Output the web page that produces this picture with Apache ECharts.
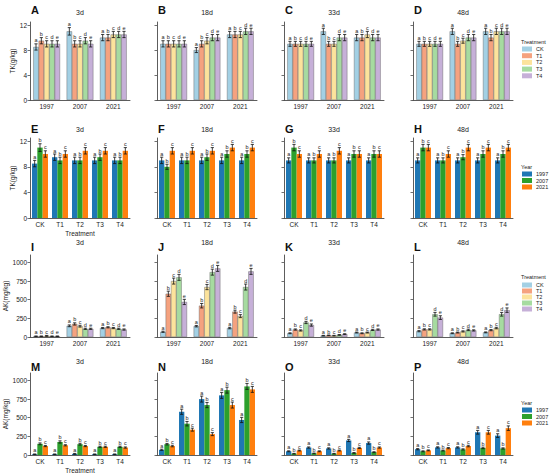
<!DOCTYPE html>
<html><head><meta charset="utf-8">
<script src="https://cdn.jsdelivr.net/npm/echarts@6/dist/echarts.min.js"></script>
<style>html,body{margin:0;padding:0;background:#fff}#c{width:550px;height:475px}</style>
</head><body><div id="c"></div><script>
// ---------- data ----------
var days = ['3d', '18d', '33d', '48d'];
var years = ['1997', '2007', '2021'];
var treatments = ['CK', 'T1', 'T2', 'T3', 'T4'];
var panelLetters = ['A','B','C','D','E','F','G','H','I','J','K','L','M','N','O','P'];
var letters5 = ['a', 'b', 'c', 'd', 'e'];
var letters3 = ['a', 'b', 'c'];
var tkTicks = [0, 4, 8, 12];
var akTicks = [0, 250, 500, 750, 1000];

// TK (g/kg): rows = treatment (CK..T4), columns = year (1997, 2007, 2021)
var tk3d  = [[8.5, 11, 10], [9.5, 9, 10], [9, 9, 10.5], [9, 9.5, 10.5], [9, 9, 10.5]];
var tk18d = [[9, 8, 10.5], [9, 9, 10.5], [9, 9.5, 10.5], [9, 10, 11], [9, 10, 11]];
var tk33d = [[9, 11, 10], [9, 9, 10], [9, 9, 10.5], [9, 10, 10], [9, 10, 10]];
var tk48d = [[9, 11, 11], [9, 9, 10], [9, 9.5, 11], [9, 10, 11], [9, 10, 11]];
var tkErr3d  = [[0.5, 0.6, 0.5], [0.5, 0.5, 0.5], [0.5, 0.5, 0.5], [0.5, 0.5, 0.5], [0.5, 0.5, 0.5]];
var tkErr18d = [[0.5, 0.4, 0.5], [0.5, 0.5, 0.5], [0.5, 0.5, 0.5], [0.5, 0.5, 0.5], [0.5, 0.5, 0.5]];
var tkErr33d = [[0.4, 0.5, 0.5], [0.4, 0.4, 0.5], [0.4, 0.4, 0.5], [0.4, 0.5, 0.5], [0.4, 0.5, 0.5]];
var tkErr48d = [[0.4, 0.5, 0.5], [0.4, 0.4, 0.5], [0.4, 0.4, 0.5], [0.4, 0.5, 0.5], [0.4, 0.5, 0.5]];

// AK (mg/kg): rows = treatment, columns = year
var ak3d  = [[10, 150, 120], [10, 175, 130], [15, 145, 120], [10, 110, 110], [10, 110, 100]];
var ak18d = [[70, 145, 120], [580, 420, 340], [750, 670, 280], [800, 870, 670], [470, 920, 880]];
var ak33d = [[50, 18, 60], [100, 22, 50], [88, 18, 60], [195, 28, 95], [160, 38, 100]];
var ak48d = [[78, 50, 62], [102, 60, 92], [102, 75, 120], [305, 95, 305], [260, 88, 360]];
var akErr3d  = [[4, 12, 8], [4, 15, 8], [6, 12, 8], [4, 8, 8], [4, 8, 8]];
var akErr18d = [[8, 10, 10], [35, 30, 20], [40, 35, 20], [40, 40, 40], [35, 40, 40]];
var akErr33d = [[6, 4, 6], [8, 4, 6], [8, 4, 6], [15, 5, 8], [15, 6, 8]];
var akErr48d = [[8, 6, 6], [8, 6, 8], [8, 8, 10], [25, 10, 25], [25, 8, 30]];

// ---------- style ----------
var treatColors = ['#a3d0e4', '#f5a27f', '#fce39c', '#a6dba0', '#c6b0d8'];
var yearColors = ['#1f77b4', '#2ca02c', '#ff7f0e'];
var colLeft = [30, 157, 284, 413];
var colWidth = 100;
var rowTop = [22, 138, 255, 373];
var rowHeight = [78, 80, 82, 82];
var letterTop = [4.5, 123, 241, 361];
var dayTop = [9, 126, 239, 358];
var FONT = 'Liberation Sans';

var tkData = [tk3d, tk18d, tk33d, tk48d];
var tkErrData = [tkErr3d, tkErr18d, tkErr33d, tkErr48d];
var akData = [ak3d, ak18d, ak33d, ak48d];
var akErrData = [akErr3d, akErr18d, akErr33d, akErr48d];

var grids = [], xAxes = [], yAxes = [], series = [], titles = [];

function errRenderer(nSer, letters) {
  return function (params, api) {
    var cat = api.value(0), s = api.value(1), v = api.value(2), e = api.value(3);
    var band = api.size([1, 0])[0];
    var group = band * 0.8;
    var bw = group / nSer;
    var c = api.coord([cat, v]);
    var x = c[0] - group / 2 + bw * (s + 0.5);
    var yT = api.coord([cat, v + e])[1];
    var yB = api.coord([cat, Math.max(0, v - e)])[1];
    var cap = Math.min(1.6, bw * 0.3);
    var st = { stroke: '#111', lineWidth: 0.8 };
    return {
      type: 'group',
      children: [
        { type: 'line', shape: { x1: x, y1: yT, x2: x, y2: yB }, style: st },
        { type: 'line', shape: { x1: x - cap, y1: yT, x2: x + cap, y2: yT }, style: st },
        { type: 'line', shape: { x1: x - cap, y1: yB, x2: x + cap, y2: yB }, style: st },
        { type: 'text', style: { text: letters[s], x: x, y: yT - 0.5, align: 'center', verticalAlign: 'bottom',
            fontSize: 5.5, fill: '#222', fontFamily: FONT } }
      ]
    };
  };
}

for (var r = 0; r < 4; r++) {
  for (var c = 0; c < 4; c++) {
    var idx = r * 4 + c;
    var isTK = r < 2;
    var byYear = (r === 0 || r === 2); // x categories = years, series = treatments
    var vals = isTK ? tkData[c] : akData[c];
    var errs = isTK ? tkErrData[c] : akErrData[c];
    grids.push({ left: colLeft[c], top: rowTop[r], width: colWidth, height: rowHeight[r] });
    var cats = byYear ? years : treatments;
    xAxes.push({
      type: 'category', gridIndex: idx, data: cats,
      axisLine: { lineStyle: { color: '#333', width: 0.8 } },
      axisTick: { alignWithLabel: true, length: 2.5, lineStyle: { color: '#333', width: 0.7 } },
      axisLabel: { fontSize: 6.5, color: '#222', margin: 3, fontFamily: FONT },
      name: (c === 0 && (r === 1 || r === 3)) ? 'Treatment' : '',
      nameLocation: 'middle', nameGap: 12,
      nameTextStyle: { fontSize: 6.5, color: '#222', fontFamily: FONT }
    });
    yAxes.push({
      type: 'value', gridIndex: idx, min: 0, max: isTK ? 12.5 : 1100,
      splitLine: { show: false },
      axisLine: { show: true, lineStyle: { color: '#333', width: 0.8 } },
      axisTick: { show: true, length: 2.5, customValues: isTK ? tkTicks : akTicks, lineStyle: { color: '#333', width: 0.7 } },
      axisLabel: { show: c === 0, customValues: isTK ? tkTicks : akTicks, fontSize: 6.5, color: '#222', margin: 3, fontFamily: FONT,
        formatter: function (v) { return String(v); } },
      name: c === 0 ? (isTK ? 'TK(g/kg)' : 'AK(mg/kg)') : '',
      nameLocation: 'middle', nameGap: isTK ? 14 : 20,
      nameTextStyle: { fontSize: 6.5, color: '#222', fontFamily: FONT }
    });
    var names = byYear ? treatments : years;
    var colors = byYear ? treatColors : yearColors;
    var errItems = [];
    for (var s = 0; s < names.length; s++) {
      var d = [];
      for (var k = 0; k < cats.length; k++) {
        var v = byYear ? vals[s][k] : vals[k][s];
        var e = byYear ? errs[s][k] : errs[k][s];
        d.push(v);
        errItems.push([k, s, v, e]);
      }
      series.push({
        type: 'bar', name: names[s], xAxisIndex: idx, yAxisIndex: idx, data: d,
        barGap: '0%', barCategoryGap: '20%',
        itemStyle: byYear ? { color: colors[s], borderColor: '#555', borderWidth: 0.4 } : { color: colors[s] },
        animation: false
      });
    }
    series.push({
      type: 'custom', xAxisIndex: idx, yAxisIndex: idx, data: errItems,
      encode: { x: 0, y: 2 }, renderItem: errRenderer(names.length, byYear ? letters5 : letters3),
      animation: false, silent: true, z: 5
    });
    titles.push({ text: panelLetters[idx], left: colLeft[c] + 1, top: letterTop[r], padding: 0,
      textStyle: { fontSize: 11, fontWeight: 'bold', color: '#111', fontFamily: FONT } });
    titles.push({ text: days[c], left: colLeft[c] + colWidth / 2, top: dayTop[r], textAlign: 'center', padding: 0,
      textStyle: { fontSize: 7, fontWeight: 'normal', color: '#222', fontFamily: FONT } });
  }
}

// legends with their titles
var legendTops = [46, 171, 282, 407];
var legendTitleTops = [39, 164, 274, 400];
var legendNames = ['Treatment', 'Year', 'Treatment', 'Year'];
var legendGaps = [0.7, 0.5, 0, 0.5];
var legends = [];
for (var i = 0; i < 4; i++) {
  titles.push({ text: legendNames[i], left: 521, top: legendTitleTops[i], padding: 0,
    textStyle: { fontSize: 5.5, fontWeight: 'normal', color: '#222', fontFamily: FONT, lineHeight: 6 } });
  legends.push({
    orient: 'vertical', left: 522, top: legendTops[i], selectedMode: false,
    data: (i % 2 === 0) ? treatments : years, icon: 'rect',
    itemWidth: 10, itemHeight: 5, itemGap: legendGaps[i], padding: 0,
    itemStyle: { borderWidth: 0 },
    textStyle: { fontSize: 5.5, lineHeight: 6, color: '#222', fontFamily: FONT, padding: [0, 0, 0, -1] }
  });
}

var chart = echarts.init(document.getElementById('c'), null, { renderer: 'svg' });
chart.setOption({
  backgroundColor: '#fff',
  animation: false,
  title: titles,
  legend: legends,
  grid: grids,
  xAxis: xAxes,
  yAxis: yAxes,
  series: series
});
</script></body></html>
